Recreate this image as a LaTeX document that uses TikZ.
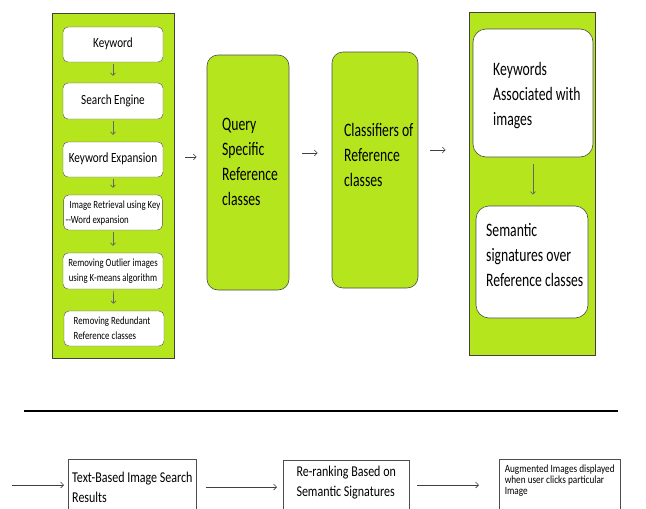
\documentclass[tikz,border=0pt]{standalone}
\usepackage{fontspec}
\usepackage{graphicx}
\usetikzlibrary{arrows.meta}
\newfontfamily\diagfont{Carlito}
\newcommand\diagsize[2]{\diagfont\fontsize{#1}{#2}\selectfont}
% narrow the text the way the picture shows it
\newcommand\sqzx{0.8}
\newcommand\sqz[2][l]{\scalebox{\sqzx}[1]{\begin{tabular}[t]{@{}#1@{}}#2\end{tabular}}}
\definecolor{lime}{HTML}{B5E61D}
\definecolor{edge}{HTML}{4D4D4D}
\tikzset{
  panel/.style={draw=black!75, fill=lime, line width=0.6pt},
  stepbox/.style={draw=edge, fill=white, rounded corners=5pt, minimum width=100pt,
    minimum height=35pt, inner sep=2pt},
  bigbox/.style={draw=edge, rounded corners=11pt, line width=0.6pt},
  bigtext/.style={anchor=base west, inner sep=0pt, font={\diagsize{19}{25}\def\sqzx{0.72}}},
  outbox/.style={draw=edge, fill=white, anchor=north west, text depth=40pt,
    font=\diagsize{15}{19.5}},
  flow/.style={-{Straight Barb[length=3pt,width=6pt]}, black!75, line width=0.6pt},
  down/.style={-{Straight Barb[length=2.5pt,width=5pt]}, black!60, line width=0.7pt}
}
\begin{document}
\begin{tikzpicture}[x=1pt,y=-1pt]
  \useasboundingbox (0,0) rectangle (646,509);
  \clip (0,0) rectangle (646,509);

  % left panel
  \node[panel, minimum width=122pt, minimum height=345pt] (lp) at (113,185.5) {};
  \node[stepbox, font=\diagsize{14}{16}] (kwd) at (113,44.5) {\sqz[c]{Keyword}};
  \node[stepbox, font=\diagsize{14}{16}, minimum height=36pt] (se) at (113,101) {\sqz[c]{Search Engine}};
  \node[stepbox, font=\diagsize{14}{16}] (kx) at (113,159.5) {\sqz[c]{Keyword Expansion}};
  \node[stepbox, minimum width=98pt, font=\diagsize{11}{15}] (ir) at (113,212.5)
    {\sqz{\hspace*{5pt}Image Retrieval using Key\\--Word expansion}};
  \node[stepbox, minimum height=36pt, font=\diagsize{11}{15}] (ro) at (113,271)
    {\sqz[c]{Removing Outlier images\\using K-means algorithm}};
  \node[stepbox, font=\diagsize{11}{15}] (rr) at (114,328.5)
    {\sqz{Removing Redundant\\Reference classes}\hspace*{4pt}};

  \draw[down, shorten <=2pt, shorten >=7pt] (kwd) -- (se);
  \draw[down, shorten <=2pt, shorten >=7pt] (se) -- (kx);
  \draw[down, shorten <=2pt, shorten >=7pt] (kx) -- (ir);
  \draw[down, shorten <=2pt, shorten >=7pt] (ir) -- (ro);
  \draw[down, shorten <=2pt, shorten >=7pt] (ro) -- (rr);

  % middle boxes
  \node[bigbox, fill=lime, minimum width=82pt, minimum height=235pt] (qy) at (248,172.5) {};
  \node[bigtext] (qyt) at (222,130) {\sqz{Query\\Specific\\Reference\\classes}};
  \node[bigbox, fill=lime, minimum width=86pt, minimum height=236pt] (cl) at (375,170) {};
  \node[bigtext] (clt) at (344,136) {\sqz{Classifiers of\\Reference\\classes}};

  % right panel
  \node[panel, minimum width=126pt, minimum height=343pt] (rp) at (532,183.5) {};
  \node[bigbox, fill=white, rounded corners=13pt, minimum width=120pt, minimum height=128pt] (kw) at (533,93) {};
  \node[bigtext] (kwt) at (493,75) {\sqz{Keywords\\Associated with\\images}};
  \node[bigbox, fill=white, rounded corners=13pt, minimum width=112pt, minimum height=112pt] (sem) at (532,262) {};
  \node[bigtext] (semt) at (486,236) {\sqz{Semantic\\signatures over\\Reference classes}};
  \draw[down, shorten <=7pt, shorten >=11pt] (kw.south) -- (kw.south |- sem.north);

  \draw[flow, shorten <=11pt, shorten >=10pt] (lp.east |- 0,157) -- (qy.west |- 0,157);
  \draw[flow, shorten <=13pt, shorten >=14pt] (qy.east |- 0,153) -- (cl.west |- 0,153);
  \draw[flow, shorten <=12pt, shorten >=23pt] (cl.east |- 0,150) -- (rp.west |- 0,150);

  % separator
  \coordinate (sl) at (24,411);
  \coordinate (sr) at (618,411);
  \draw[line width=2.6pt] (sl) -- (sr);

  % bottom row
  \coordinate (in) at (12,485);
  \node[outbox, minimum width=125pt, inner xsep=4pt, inner ysep=10pt] (tb) at (68,459)
    {\sqz{Text-Based Image Search\\Results}\hfill};
  \node[outbox, minimum width=126pt, inner xsep=13pt, inner ysep=3pt] (rk) at (283,460)
    {\sqz{Re-ranking Based on\\Semantic Signatures}};
  \node[outbox, minimum width=121pt, inner xsep=3pt, inner ysep=6pt, font={\diagsize{11}{11}\def\sqzx{0.84}}] (au) at (499,459)
    {\sqz{Augmented Images displayed\\when user clicks particular\\Image}\hfill};

  \draw[flow, shorten >=4pt] (in) -- (tb.west |- in);
  \draw[flow, shorten <=9pt, shorten >=6pt] (tb.east |- 0,487) -- (rk.west |- 0,487);
  \draw[flow, shorten <=8pt, shorten >=20pt] (rk.east |- 0,485) -- (au.west |- 0,485);
\end{tikzpicture}
\end{document}
